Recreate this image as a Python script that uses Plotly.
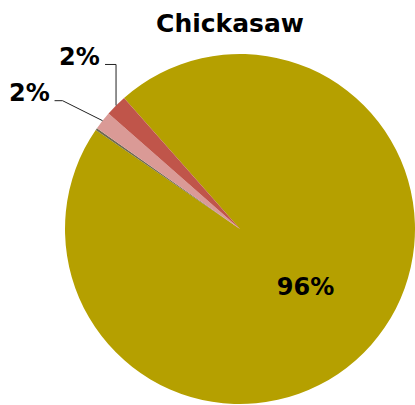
import math
import plotly.graph_objects as go

categories = ["Main", "Other", "Minor A", "Minor B"]
values = [96.1, 0.2, 1.7, 2.0]
label_text = ["96%", "", "2%", "2%"]
colors = ["#B5A000", "#6E6A50", "#DA9A96", "#C0554A"]

W, H = 415, 405
cx, cy, R = 240, 229, 175
ROT = 318.5
FONT = dict(family="DejaVu Sans", size=24, color="black", weight="bold")

fig = go.Figure(go.Pie(
    labels=categories,
    values=values,
    text=[label_text[0], "", "", ""],
    textinfo="text",
    textposition=["inside", "none", "none", "none"],
    insidetextorientation="horizontal",
    sort=False,
    direction="clockwise",
    rotation=ROT,
    marker=dict(colors=colors, line=dict(width=0)),
    textfont=FONT,
    automargin=False,
    showlegend=False,
    hoverinfo="skip",
    domain=dict(x=[(cx - R) / W, (cx + R) / W], y=[(H - cy - R) / H, (H - cy + R) / H]),
))

# slice mid-angles (clockwise from 12 o'clock), derived from the values
total = sum(values)
mids = []
start = ROT
for v in values:
    span = v / total * 360
    mids.append(start + span / 2)
    start += span

def edge_point(angle):
    a = math.radians(angle)
    return cx + R * math.sin(a), cy - R * math.cos(a)

def px(x):
    return x / W

def py(y):
    return 1 - y / H

# leader-line styles for the two outside labels
leader_style = {
    3: dict(elbow=(0, -41), tail=11, text_dy=-7),
    2: dict(elbow=(-40, -20), tail=8, text_dy=-8),
}

shapes = []
annotations = []
for i, st in leader_style.items():
    ex, ey = edge_point(mids[i])
    bx, by = ex + st["elbow"][0], ey + st["elbow"][1]
    tx, ty = bx - st["tail"], by
    shapes.append(dict(
        type="path", xref="paper", yref="paper",
        path=f"M {px(ex)} {py(ey)} L {px(bx)} {py(by)} L {px(tx)} {py(ty)}",
        line=dict(color="#222222", width=1),
    ))
    annotations.append(dict(
        text=label_text[i], xref="paper", yref="paper",
        x=px(tx - 3), y=py(ty + st["text_dy"]), xanchor="right", yanchor="middle",
        showarrow=False, font=FONT,
    ))

fig.update_layout(
    width=W, height=H,
    margin=dict(l=0, r=0, t=0, b=0),
    paper_bgcolor="white",
    plot_bgcolor="white",
    shapes=shapes,
    annotations=annotations,
    title=dict(text="Chickasaw", x=230 / W, xanchor="center", y=1 - 23 / H, yanchor="middle",
               font=dict(family="DejaVu Sans", size=25, color="black", weight="bold")),
)

fig.write_html("out.html")
